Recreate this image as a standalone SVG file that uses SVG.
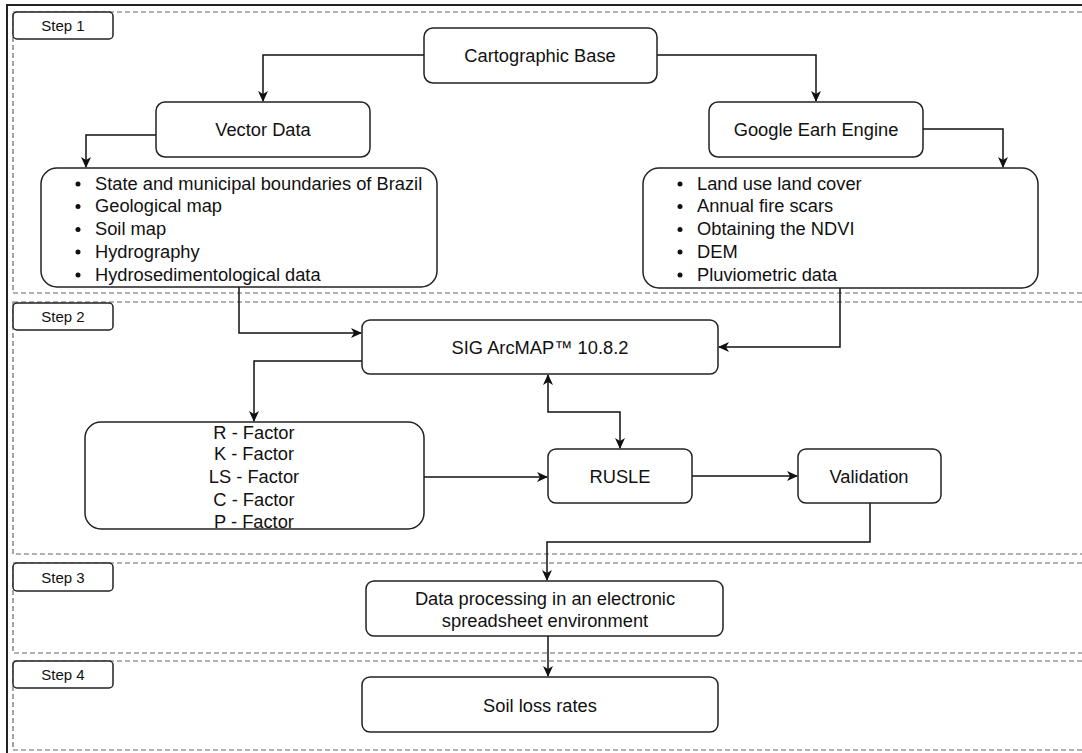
<svg xmlns="http://www.w3.org/2000/svg" width="1082" height="753" viewBox="0 0 1082 753">
  <defs>
    <marker id="arr" markerWidth="12" markerHeight="10" refX="10" refY="5" orient="auto" markerUnits="userSpaceOnUse">
      <path d="M0,0 L11,5 L0,10 L3,5 z" fill="#111"/>
    </marker>
    <marker id="arrs" markerWidth="12" markerHeight="10" refX="1" refY="5" orient="auto" markerUnits="userSpaceOnUse">
      <path d="M11,0 L0,5 L11,10 L8,5 z" fill="#111"/>
    </marker>
  </defs>
  <style>
    .frame { fill: none; stroke: #222; stroke-width: 2; }
    .lane { fill: none; stroke: #666; stroke-width: 1.2; stroke-dasharray: 5 3; }
    .box { fill: #fff; stroke: #222; stroke-width: 1.5; }
    .t { font-family: "Liberation Sans", Arial, sans-serif; font-size: 18.3px; fill: #111; }
    .s { font-family: "Liberation Sans", Arial, sans-serif; font-size: 15px; fill: #111; text-anchor: middle; }
    .c { text-anchor: middle; }
    .conn { fill: none; stroke: #111; stroke-width: 1.5; }
  </style>
  <rect width="1082" height="753" fill="#fff"/>
  <rect class="frame" x="7" y="5" width="1090" height="770"/>

  <g id="lanes">
    <rect class="lane" x="13" y="12" width="1090" height="281"/>
    <rect class="lane" x="13" y="302" width="1090" height="252"/>
    <rect class="lane" x="13" y="563" width="1090" height="90"/>
    <rect class="lane" x="13" y="661" width="1090" height="89"/>
  </g>

  <g id="step1"><rect class="box" x="13" y="12" width="100" height="27" rx="4"/><text class="s" x="63" y="31">Step 1</text></g>
  <g id="step2"><rect class="box" x="13" y="303" width="100" height="27" rx="4"/><text class="s" x="63" y="322">Step 2</text></g>
  <g id="step3"><rect class="box" x="13" y="563" width="100" height="28" rx="4"/><text class="s" x="63" y="582.5">Step 3</text></g>
  <g id="step4"><rect class="box" x="13" y="661" width="100" height="27" rx="4"/><text class="s" x="63" y="680">Step 4</text></g>

  <g id="connectors">
    <path class="conn" d="M424,55 H263 V101" marker-end="url(#arr)"/>
    <path class="conn" d="M657,55 H816 V101" marker-end="url(#arr)"/>
    <path class="conn" d="M156,135 H86 V167" marker-end="url(#arr)"/>
    <path class="conn" d="M923,129 H1003 V167" marker-end="url(#arr)"/>
    <path class="conn" d="M239,287 V333 H361" marker-end="url(#arr)"/>
    <path class="conn" d="M840,288 V347 H719" marker-end="url(#arr)"/>
    <path class="conn" d="M362,361 H254 V421" marker-end="url(#arr)"/>
    <path class="conn" d="M424,477 H547" marker-end="url(#arr)"/>
    <path class="conn" d="M548,375 V412 H620 V448" marker-start="url(#arrs)" marker-end="url(#arr)"/>
    <path class="conn" d="M692,476 H797" marker-end="url(#arr)"/>
    <path class="conn" d="M870,503 V542 H547 V580" marker-end="url(#arr)"/>
    <path class="conn" d="M548,636 V676" marker-end="url(#arr)"/>
  </g>

  <g id="cartographic-base">
    <rect class="box" x="424" y="28" width="233" height="55" rx="9"/>
    <text class="t c" x="540" y="61.5">Cartographic Base</text>
  </g>
  <g id="vector-data">
    <rect class="box" x="156" y="102" width="214" height="55" rx="9"/>
    <text class="t c" x="263" y="136">Vector Data</text>
  </g>
  <g id="google-earth-engine">
    <rect class="box" x="709" y="102" width="214" height="55" rx="9"/>
    <text class="t c" x="816" y="136">Google Earh Engine</text>
  </g>
  <g id="vector-list">
    <rect class="box" x="41" y="168" width="396" height="119" rx="16"/>
    <g fill="#111">
      <circle cx="78" cy="184" r="2.5"/><circle cx="78" cy="206.5" r="2.5"/><circle cx="78" cy="229.5" r="2.5"/><circle cx="78" cy="252" r="2.5"/><circle cx="78" cy="275" r="2.5"/>
    </g>
    <text class="t" x="95" y="189.5">State and municipal boundaries of Brazil</text>
    <text class="t" x="95" y="212">Geological map</text>
    <text class="t" x="95" y="235">Soil map</text>
    <text class="t" x="95" y="257.5">Hydrography</text>
    <text class="t" x="95" y="280.5">Hydrosedimentological data</text>
  </g>
  <g id="gee-list">
    <rect class="box" x="643" y="168" width="395" height="120" rx="16"/>
    <g fill="#111">
      <circle cx="680" cy="184" r="2.5"/><circle cx="680" cy="206.5" r="2.5"/><circle cx="680" cy="229.5" r="2.5"/><circle cx="680" cy="252" r="2.5"/><circle cx="680" cy="275" r="2.5"/>
    </g>
    <text class="t" x="697" y="189.5">Land use land cover</text>
    <text class="t" x="697" y="212">Annual fire scars</text>
    <text class="t" x="697" y="235">Obtaining the NDVI</text>
    <text class="t" x="697" y="257.5">DEM</text>
    <text class="t" x="697" y="280.5">Pluviometric data</text>
  </g>
  <g id="sig-arcmap">
    <rect class="box" x="362" y="320" width="356" height="54" rx="8"/>
    <text class="t c" x="540" y="353.5">SIG ArcMAP™ 10.8.2</text>
  </g>
  <g id="factors">
    <rect class="box" x="85" y="422" width="339" height="107" rx="16"/>
    <text class="t c" x="254" y="438.5">R - Factor</text>
    <text class="t c" x="254" y="460">K - Factor</text>
    <text class="t c" x="254" y="482.5">LS - Factor</text>
    <text class="t c" x="254" y="505.5">C - Factor</text>
    <text class="t c" x="254" y="527.5">P - Factor</text>
  </g>
  <g id="rusle">
    <rect class="box" x="548" y="449" width="144" height="54" rx="8"/>
    <text class="t c" x="620" y="482.5">RUSLE</text>
  </g>
  <g id="validation">
    <rect class="box" x="798" y="449" width="143" height="54" rx="8"/>
    <text class="t c" x="869" y="482.5">Validation</text>
  </g>
  <g id="data-processing">
    <rect class="box" x="366" y="581" width="357" height="55" rx="8"/>
    <text class="t c" x="545" y="604.5">Data processing in an electronic</text>
    <text class="t c" x="545" y="626.5">spreadsheet environment</text>
  </g>
  <g id="soil-loss">
    <rect class="box" x="362" y="677" width="356" height="55" rx="8"/>
    <text class="t c" x="540" y="711.5">Soil loss rates</text>
  </g>
</svg>
